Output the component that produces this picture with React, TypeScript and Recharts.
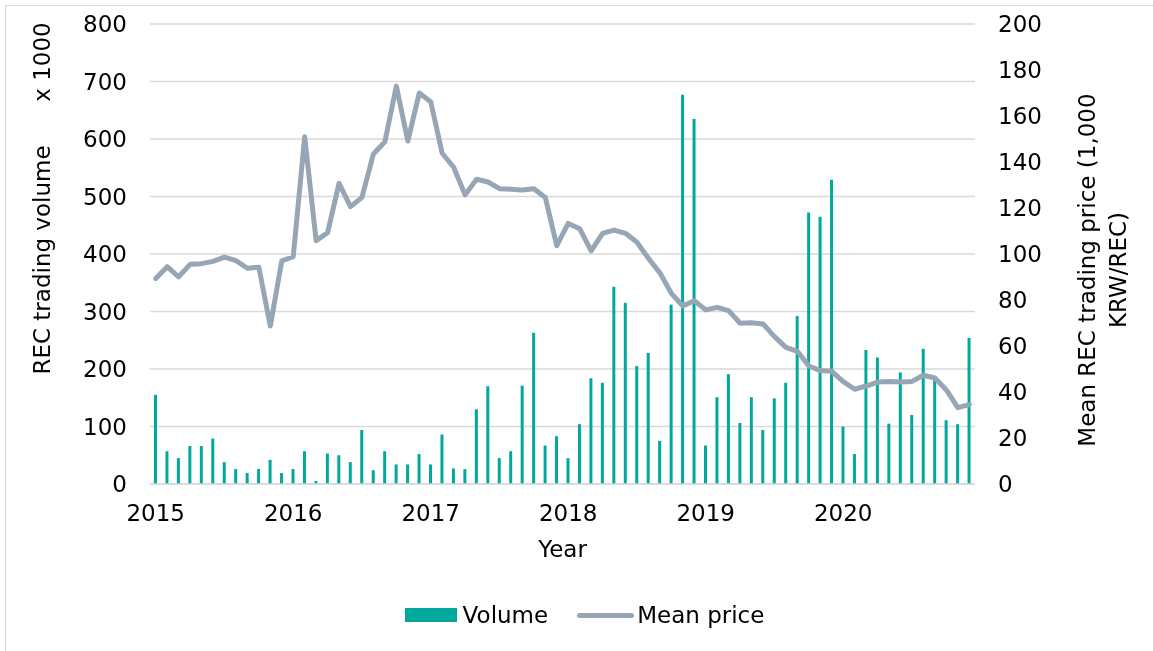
import { ComposedChart, Bar, Line, XAxis, YAxis, CartesianGrid, Legend } from 'recharts';

const FONT = "'DejaVu Sans', Verdana, sans-serif";
const BAR_COLOR = '#00a99c';
const LINE_COLOR = '#97a6b4';
const GRID_COLOR = '#d9d9d9';

const YEARS = ['2015', '2016', '2017', '2018', '2019', '2020'];
const MONTHS = ['01', '02', '03', '04', '05', '06', '07', '08', '09', '10', '11', '12'];

// REC trading volume (x 1000), monthly
const VOLUME = [
  155, 57, 45, 66, 66, 79, 38, 26, 19, 26, 42, 19,
  26, 57, 5, 53, 50, 38, 94, 24, 57, 34, 34, 52,
  34, 86, 27, 26, 130, 170, 45, 57, 171, 263, 67, 83,
  45, 104, 184, 176, 343, 315, 205, 228, 75, 312, 677, 635,
  67, 151, 191, 106, 151, 94, 149, 176, 292, 472, 465, 529,
  100, 52, 233, 220, 105, 194, 120, 235, 188, 111, 104, 254,
];

// mean REC trading price (1,000 KRW/REC), monthly
const PRICE = [
  89.4, 94.5, 90.1, 95.5, 95.8, 96.8, 98.6, 97.1, 93.8, 94.2, 68.7, 97.0,
  98.8, 151.0, 105.8, 109.3, 130.7, 120.6, 124.6, 143.5, 148.8, 173.0, 149.1, 170.0,
  166.2, 143.8, 137.7, 125.7, 132.5, 131.3, 128.4, 128.1, 127.8, 128.4, 124.6, 103.6,
  113.3, 111.0, 101.4, 109.0, 110.4, 109.0, 105.1, 98.1, 91.8, 82.9, 77.4, 79.7,
  75.7, 76.8, 75.4, 69.9, 70.1, 69.6, 64.1, 59.4, 57.7, 51.3, 49.3, 49.0,
  44.5, 41.2, 42.6, 44.3, 44.6, 44.3, 44.6, 47.3, 46.1, 40.9, 33.2, 34.5,
];

const LEFT_TICKS = [0, 100, 200, 300, 400, 500, 600, 700, 800];
const RIGHT_TICKS = [0, 20, 40, 60, 80, 100, 120, 140, 160, 180, 200];

const CATEGORIES = YEARS.flatMap((y) => MONTHS.map((m) => `${y}-${m}`));
const data = CATEGORIES.map((month, i) => ({ month, volume: VOLUME[i], price: PRICE[i] }));

const tickStyle = { fill: '#000', fontSize: 23, fontFamily: FONT };

const LeftTitle = (props: any) => {
  const { x, y } = props.viewBox;
  const bx = x + 42;
  const c1 = y + 236;
  const c2 = y + 38;
  return (
    <g fill="#000" fontSize={23} fontFamily={FONT}>
      <text x={bx} y={c1} textAnchor="middle" transform={`rotate(-90, ${bx}, ${c1})`}>REC trading volume</text>
      <text x={bx} y={c2} textAnchor="middle" transform={`rotate(-90, ${bx}, ${c2})`}>x 1000</text>
    </g>
  );
};

const RightTitle = (props: any) => {
  const { x, y } = props.viewBox;
  const b1 = x + 120;
  const b2 = x + 151;
  const cy = y + 246;
  return (
    <g fill="#000" fontSize={23} fontFamily={FONT}>
      <text x={b1} y={cy} textAnchor="middle" transform={`rotate(-90, ${b1}, ${cy})`}>Mean REC trading price (1,000</text>
      <text x={b2} y={cy} textAnchor="middle" transform={`rotate(-90, ${b2}, ${cy})`}>KRW/REC)</text>
    </g>
  );
};

const renderLegend = (props: any) => {
  // bars first, then the line, as in the original
  const items = [...(props.payload || [])].sort((a: any, b: any) => (a.type === 'line' ? 1 : 0) - (b.type === 'line' ? 1 : 0));
  return (
    <div style={{ display: 'flex', justifyContent: 'center', alignItems: 'center', height: 40, paddingLeft: 16, fontFamily: FONT, fontSize: 23, color: '#000' }}>
      {items.map((entry: any, i: number) => (
        <div key={`legend-${i}`} style={{ display: 'flex', alignItems: 'center', marginLeft: i > 0 ? 29 : 0 }}>
          {entry.type === 'line' ? (
            <span style={{ display: 'inline-block', width: 57, height: 5, borderRadius: 3, background: LINE_COLOR, marginRight: 3 }} />
          ) : (
            <span style={{ display: 'inline-block', width: 52, height: 14, background: BAR_COLOR, marginRight: 6 }} />
          )}
          <span>{entry.value}</span>
        </div>
      ))}
    </div>
  );
};

export default function App() {
  return (
    <div style={{ width: 1137, height: 635 }}>
      <div style={{ position: 'fixed', left: 5, top: 5, width: 1300, height: 800, border: `1px solid ${GRID_COLOR}`, pointerEvents: 'none' }} />
      <ComposedChart width={1137} height={635} data={data} margin={{ top: 16, right: 0, bottom: 8, left: 0 }}>
        <CartesianGrid yAxisId="left" vertical={false} stroke={GRID_COLOR} strokeWidth={1.3} />
        <XAxis
          dataKey="month"
          interval={11}
          tickFormatter={(v: string) => (v.endsWith('-01') ? v.slice(0, 4) : '')}
          tickLine={false}
          tickSize={0}
          tickMargin={21}
          axisLine={{ stroke: GRID_COLOR, strokeWidth: 1.3 }}
          height={111}
          tick={tickStyle}
          label={{ value: 'Year', position: 'insideBottom', offset: 38, fill: '#000', fontSize: 23, fontFamily: FONT }}
        />
        <YAxis
          yAxisId="left"
          orientation="left"
          width={142}
          domain={[0, 800]}
          ticks={LEFT_TICKS}
          axisLine={false}
          tickLine={false}
          tickSize={0}
          tickMargin={23}
          tick={tickStyle}
          label={LeftTitle}
        />
        <YAxis
          yAxisId="right"
          orientation="right"
          width={170}
          domain={[0, 200]}
          ticks={RIGHT_TICKS}
          axisLine={false}
          tickLine={false}
          tickSize={0}
          tickMargin={23}
          tick={tickStyle}
          label={RightTitle}
        />
        <Bar yAxisId="left" dataKey="volume" name="Volume" fill={BAR_COLOR} barSize={3} isAnimationActive={false} />
        <Line
          yAxisId="right"
          type="linear"
          dataKey="price"
          name="Mean price"
          stroke={LINE_COLOR}
          strokeWidth={5}
          strokeLinejoin="round"
          strokeLinecap="round"
          dot={false}
          activeDot={false}
          isAnimationActive={false}
        />
        <Legend verticalAlign="bottom" height={40} content={renderLegend} />
      </ComposedChart>
    </div>
  );
}
